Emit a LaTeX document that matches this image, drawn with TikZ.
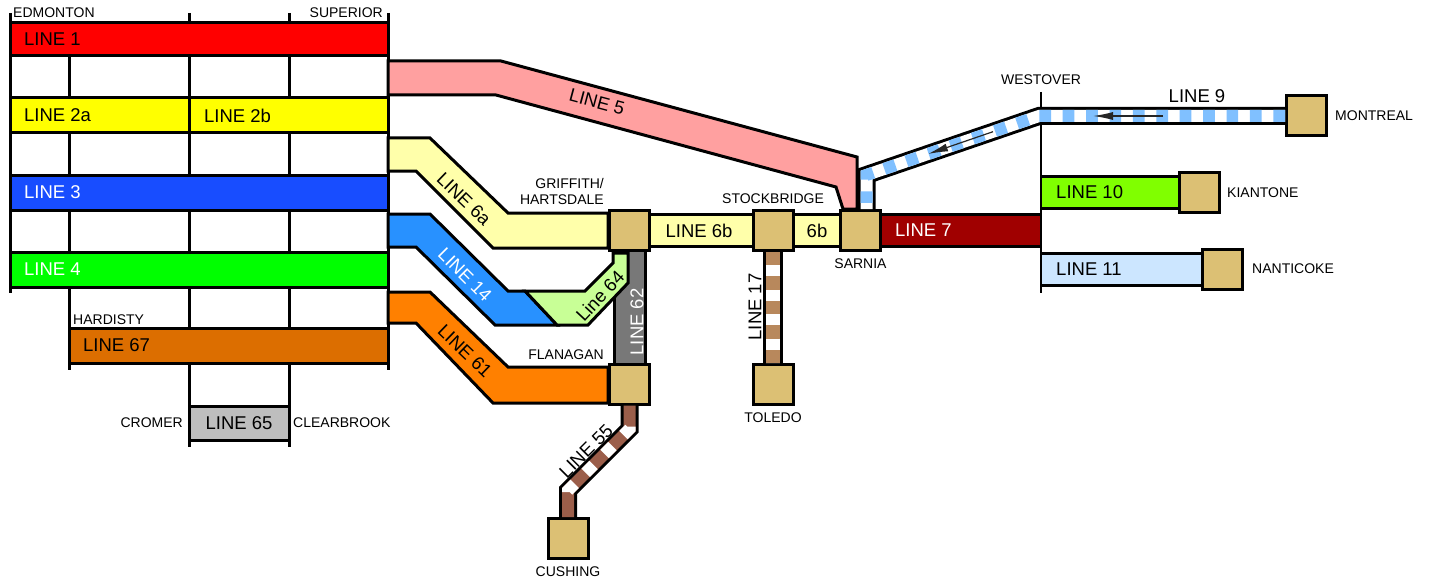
\documentclass[tikz,border=0pt]{standalone}
\usepackage{fontspec}
\setmainfont{Liberation Sans}
\usetikzlibrary{arrows.meta,calc,positioning}

\definecolor{cOne}{RGB}{255,0,0}
\definecolor{cTwo}{RGB}{255,255,0}
\definecolor{cThree}{RGB}{24,77,255}
\definecolor{cFour}{RGB}{0,255,0}
\definecolor{cFive}{RGB}{255,160,160}
\definecolor{cSix}{RGB}{255,255,170}
\definecolor{cSeven}{RGB}{160,0,0}
\definecolor{cNine}{RGB}{128,192,255}
\definecolor{cTen}{RGB}{128,255,0}
\definecolor{cEleven}{RGB}{204,230,255}
\definecolor{cFourteen}{RGB}{40,145,255}
\definecolor{cSeventeen}{RGB}{184,136,92}
\definecolor{cFiftyFive}{RGB}{155,94,74}
\definecolor{cSixtyOne}{RGB}{255,128,0}
\definecolor{cSixtyTwo}{RGB}{120,120,120}
\definecolor{cSixtyFour}{RGB}{200,255,150}
\definecolor{cSixtyFive}{RGB}{190,190,190}
\definecolor{cSixtySeven}{RGB}{220,110,0}
\definecolor{cBox}{RGB}{220,192,116}

\tikzset{
  stn/.style={draw=black,line width=3pt,fill=cBox,minimum size=40pt,inner sep=0pt},
  band/.style={draw=black,line width=3pt},
  pipe/.style={line width=3pt,double distance=29pt},
  narrow/.style={line width=3pt,double distance=12pt},
  bigtxt/.style={font=\fontsize{18.5}{20}\selectfont,inner sep=0pt},
  smalltxt/.style={font=\fontsize{14}{16}\selectfont,inner sep=0pt},
  flow/.style={line width=1.2pt,black!85,-{Latex[length=20pt,width=8pt]}}
}

\begin{document}
\begin{tikzpicture}[x=1pt,y=-1pt]
       \useasboundingbox (0,0) rectangle (1429,583);

       \node[stn] (griffith)    at (629.5,230.5) {};
       \node[stn] (flanagan)    at (629.5,384) {};
       \node[stn] (stockbridge) at (773,230.5) {};
       \node[stn] (sarnia)      at (860.5,230.5) {};
       \node[stn] (toledo)      at (773,384.5) {};
       \node[stn] (cushing)     at (568,538.5) {};
       \node[stn] (kiantone)    at (1199.5,192.5) {};
       \node[stn] (nanticoke)   at (1222.5,269) {};
       \node[stn] (montreal)    at (1306.5,116) {};

       \coordinate (w7)  at (1041,230.5);
       \coordinate (w10) at (1041,192.5);
       \coordinate (w11) at (1041,269);
       \coordinate (wtop) at (1041,92);
       \coordinate (wbot) at (1041,293);
       \coordinate (w9a) at (1039,116);
       \coordinate (w9b) at (866.5,175);
       \coordinate (w9c) at ($(sarnia.north)+(6,0)$);
       \coordinate (w55a) at (629.5,429);
       \coordinate (w55b) at (568,490.5);
       \coordinate (s55a) at (629.5,426.5);
       \coordinate (s55b) at (568,496);

       \foreach \x/\ya/\yb in {10/13/293,69/56/370,189/13/447,289/13/447,388/13/370}
         \draw[line width=3pt] (\x,\ya) -- (\x,\yb);

       \filldraw[band,fill=cOne] (10,23) rectangle (388,56);
       \filldraw[band,fill=cTwo] (10,98) rectangle (189,133);
       \filldraw[band,fill=cTwo] (189,98) rectangle (388,133);
       \filldraw[band,fill=cThree] (10,175) rectangle (388,210);
       \filldraw[band,fill=cFour] (10,252) rectangle (388,287);
       \filldraw[band,fill=cSixtySeven] (69,328) rectangle (388,363);
       \filldraw[band,fill=cSixtyFive] (189,406) rectangle (289,440);

       \filldraw[band,fill=cFive] (388,61) -- (501,61) -- (857,157) -- (857,209) -- (843,209) -- (836,187) -- (496,95) -- (388,95) -- cycle;
       \filldraw[band,fill=cSix] (388,138) -- (430,138) -- (508,213) -- (608,213) -- (608,248) -- (493,248) -- (416,171) -- (388,171) -- cycle;
       \filldraw[band,fill=cFourteen] (388,214) -- (430,214) -- (508,291) -- (525,291) -- (557,325) -- (495,325) -- (416,247) -- (388,247) -- cycle;
       \draw[line width=3pt,double=cSixtyTwo,double distance=28pt] (griffith) -- (flanagan);
       \filldraw[band,fill=cSixtyFour] (525,291) -- (585,291) -- (613,263) -- (613,253) -- (628,253) -- (628,283) -- (588,325) -- (557,325) -- cycle;
       \filldraw[band,fill=cSixtyOne] (388,292) -- (430,292) -- (508,367) -- (608,367) -- (608,403) -- (493,403) -- (416,323) -- (388,323) -- cycle;

       \draw[pipe,double=cSix] (griffith) -- (stockbridge);
       \draw[pipe,double=cSix] (stockbridge) -- (sarnia);
       \draw[pipe,double=cSeven] (sarnia) -- (w7);
       \draw[pipe,double=cTen] (w10) -- (kiantone);
       \draw[pipe,double=cEleven] (w11) -- (nanticoke);
       \draw[line width=2pt] (wtop) -- (wbot);

       \draw[narrow,double=white] (montreal) -- (w9a) -- (w9b) -- (w9c);
       \draw[line width=12pt,cNine,dash pattern=on 11.7pt off 11.7pt] (montreal) -- (w9a) -- (w9b) -- (w9c);
       \draw[flow] (1163,116) -- (1093,116);
       \draw[flow] (993,131.7) -- (928,154);

       \draw[narrow,double=cSeventeen,double distance=14pt] (stockbridge) -- (toledo);
       \draw[line width=14pt,white,dash pattern=on 11pt off 13.4pt,dash phase=11pt] (stockbridge) -- (toledo);

       \draw[narrow,double=cFiftyFive] (flanagan) -- (w55a) -- (w55b) -- (cushing);
       \draw[line width=12pt,white,dash pattern=on 11pt off 15.7pt] (s55a) -- (w55a) -- (w55b) -- (s55b);

       \node[bigtxt,anchor=west] (l1) at (24,39.5) {LINE 1};
       \node[bigtxt,anchor=west] (l2a) at (24,115.5) {LINE 2a};
       \node[bigtxt,anchor=west] (l2b) at (204,115.5) {LINE 2b};
       \node[bigtxt,anchor=west,text=white] (l3) at (24,192.5) {LINE 3};
       \node[bigtxt,anchor=west,text=white] (l4) at (24,269.5) {LINE 4};
       \node[bigtxt,anchor=west] (l67) at (83,345.5) {LINE 67};
       \node[bigtxt] (l65) at (239,423) {LINE 65};
       \node[bigtxt,rotate=-15] (l5) at (597,102) {LINE 5};
       \node[bigtxt,rotate=-44] (l6a) at (464,199) {LINE 6a};
       \node[bigtxt,rotate=-45,text=white] (l14) at (465,275) {LINE 14};
       \node[bigtxt,rotate=-44] (l61) at (465,351) {LINE 61};
       \node[bigtxt,rotate=47] (l64) at (600,296) {Line 64};
       \node[bigtxt,rotate=90,text=white] (l62) at (637,322) {LINE 62};
       \node[bigtxt] (l6b) at (699,230.5) {LINE 6b};
       \node[bigtxt] (l6c) at (817,230.5) {6b};
       \node[bigtxt,rotate=90] (l17) at (755,307) {LINE 17};
       \node[bigtxt,rotate=45] (l55) at (586,451) {LINE 55};
       \node[bigtxt,anchor=west,text=white] (l7) at (895,230.5) {LINE 7};
       \node[bigtxt] (l9) at (1197,96) {LINE 9};
       \node[bigtxt,anchor=west] (l10) at (1056,192.5) {LINE 10};
       \node[bigtxt,anchor=west] (l11) at (1056,269.5) {LINE 11};

       \node[smalltxt,anchor=west] (edmonton) at (13,12.5) {EDMONTON};
       \node[smalltxt,anchor=east] (superior) at (383,12.5) {SUPERIOR};
       \node[smalltxt,anchor=west] (hardisty) at (73,320) {HARDISTY};
       \node[smalltxt,anchor=east] (cromer) at (183,423) {CROMER};
       \node[smalltxt,anchor=west] (clearbrook) at (293,423) {CLEARBROOK};
       \node[smalltxt,align=right,anchor=south east] (griffithlbl) at (604,205) {GRIFFITH/\\HARTSDALE};
       \node[smalltxt,anchor=east] (flanaganlbl) at (604,355) {FLANAGAN};
       \node[smalltxt,above=5pt of stockbridge] (stockbridgelbl) {STOCKBRIDGE};
       \node[smalltxt,below=7pt of sarnia] (sarnialbl) {SARNIA};
       \node[smalltxt,below=7pt of toledo] (toledolbl) {TOLEDO};
       \node[smalltxt,below=7pt of cushing] (cushinglbl) {CUSHING};
       \node[smalltxt,above=7pt of wtop] (westoverlbl) {WESTOVER};
       \node[smalltxt,right=7pt of montreal] (montreallbl) {MONTREAL};
       \node[smalltxt,right=6pt of kiantone] (kiantonelbl) {KIANTONE};
       \node[smalltxt,right=8pt of nanticoke] (nanticokelbl) {NANTICOKE};
\end{tikzpicture}
\end{document}
